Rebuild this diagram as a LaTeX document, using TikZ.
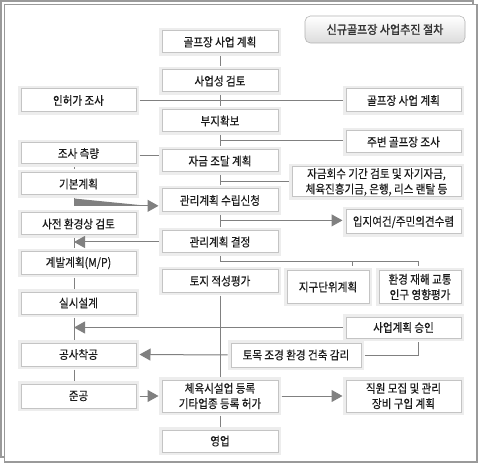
\documentclass[tikz,border=0pt]{standalone}
\usepackage{fontspec}
\usetikzlibrary{arrows.meta}
\newfontfamily\kr[FakeStretch=0.88,FakeBold=0.4]{Noto Sans CJK KR}
\newfontfamily\krb[FakeBold=1.6,FakeStretch=0.92]{Noto Sans CJK KR}
\definecolor{frame}{HTML}{9A9A9A}
\definecolor{bord}{HTML}{C4C4C4}
\definecolor{glow}{HTML}{EDEDED}
\definecolor{lnc}{HTML}{808080}
\definecolor{txt}{HTML}{1A1A1A}
\definecolor{titleb}{HTML}{B0B0B0}
\definecolor{titlebot}{HTML}{DCDCDC}
\newcommand\bx[6]{\node[box, minimum width={(#4-#2)*0.75pt}, minimum height={(#5-#3)*0.75pt}] (#1) at ({(#2+#4)/2},{(#3+#5)/2}) {#6};}
\tikzset{
  box/.style={draw=bord, fill=white, line width=0.75pt, inner sep=0pt, align=center,
    text=txt, font=\kr\fontsize{9}{11.5}\selectfont,
    preaction={draw=glow, line width=4.5pt}},
  ln/.style={draw=lnc, line width=0.75pt, shorten <=2.25pt, shorten >=2.25pt},
  lnS/.style={draw=lnc, line width=0.75pt, shorten <=2.25pt},
  lnE/.style={draw=lnc, line width=0.75pt, shorten >=2.25pt},
  tip/.style={-{Triangle[length=8.25pt,width=9pt]}, fill=lnc},
  arr/.style={ln, tip},
  arrL/.style={lnS, tip},
  arrE/.style={lnE, tip}
}
\begin{document}
\begin{tikzpicture}[x=0.75pt,y=-0.75pt]
\useasboundingbox (0,0) rectangle (478,463);
\draw[frame, line width=1pt] (1,1) rectangle (473,457);
\draw[frame, fill=white, line width=1pt] (4.5,4.5) rectangle (477,462);
\node[draw=titleb, rounded corners=4pt, top color=white, bottom color=titlebot,
  minimum width={160*0.75pt}, minimum height={27*0.75pt}, inner sep=0pt,
  text=black!80, font=\krb\fontsize{9}{11}\selectfont] (title) at (385,29.5) {신규골프장 사업추진 절차};
\bx{golf1}{162}{31}{278}{53}{골프장 사업 계획}
\bx{saeop}{162}{70}{278}{92}{사업성 검토}
\bx{inh}{21}{89}{136}{112}{인허가 조사}
\bx{golf2}{346}{89}{461}{112}{골프장 사업 계획}
\bx{buji}{162}{110}{278}{132}{부지확보}
\bx{ju}{346}{131}{461}{153}{주변 골프장 조사}
\bx{josa}{21}{143}{136}{164}{조사 측량}
\bx{jageum}{162}{150}{278}{172}{자금 조달 계획}
\bx{gibon}{21}{173}{136}{195}{기본계획}
\bx{hoesu}{292}{167}{461}{197}{자금회수 기간 검토 및 자기자금,\\체육진흥기금, 은행, 리스 랜탈 등}
\bx{gwanri}{162}{189}{278}{212}{관리계획 수립신청}
\bx{sajeon}{21}{213}{136}{235}{사전 환경상 검토}
\bx{ipji}{346}{210}{461}{234}{입지여건/주민의견수렴}
\bx{gyeol}{162}{231}{278}{253}{관리계획 결정}
\bx{gyebal}{21}{252}{136}{274}{계발계획(M/P)}
\bx{toji}{162}{270}{278}{292}{토지 적성평가}
\bx{jigu}{287}{271}{369}{303}{지구단위계획}
\bx{hwan}{379}{271}{461}{303}{환경 재해 교통\\인구 영향평가}
\bx{silsi}{21}{292}{136}{314}{실시설계}
\bx{seungin}{346}{317}{461}{338}{사업계획 승인}
\bx{gongsa}{21}{343}{136}{366}{공사착공}
\bx{tomok}{231}{343}{361}{367}{토목 조경 환경 건축 감리}
\bx{jungong}{21}{384}{136}{408}{준공}
\bx{cheyuk}{162}{380}{278}{412}{체육시설업 등록\\기타업종 등록 허가}
\bx{jigwon}{346}{380}{461}{412}{직원 모집 및 관리\\장비 구입 계획}
\bx{yeong}{162}{430}{278}{452}{영업}
\coordinate (L) at (74,0);
\coordinate (J1) at (352,262);
\coordinate (J2) at (418,262);
% connectors
\draw[ln] (golf1.south) -- (saeop.north);
\draw[ln] (saeop.south) -- (buji.north);
\draw[ln] (inh.east) -- (golf2.west);
\draw[ln] (buji.south) -- (jageum.north);
\draw[lnE] ([yshift=1pt]buji.south |- ju.west) -- ([yshift=1pt]ju.west);
\draw[ln] ([yshift=-1.8pt]josa.east) -- ([yshift=-1.8pt]josa.east -| jageum.west);
\draw[ln] (josa.south -| L) -- (gibon.north -| L);
\draw[ln] (jageum.south) -- (gwanri.north);
\draw[lnE] (jageum.south |- hoesu.west) -- (hoesu.west);
\draw[arr] (gibon.south -| L) |- ([yshift=-4pt]gwanri.west);
\draw[ln] (gwanri.south) -- (gyeol.north);
\draw[arrE] ([yshift=1.2pt]gwanri.south |- ipji.west) -- ([yshift=1.2pt]ipji.west);
\draw[ln] (sajeon.south -| L) -- (gyebal.north -| L);
\draw[arrL] (gyeol.west) -- (gyeol.west -| L);
\draw[ln] (gyebal.south -| L) -- (silsi.north -| L);
\draw[lnS] (gyeol.south) |- (J2) -- ([yshift=3pt]J2 |- hwan.north);
\draw[lnc, line width=0.75pt] (J1) -- ([yshift=3pt]J1 |- jigu.north);
\draw[ln] (toji.south) -- (cheyuk.north);
\draw[ln] (silsi.south -| L) -- (gongsa.north -| L);
\draw[arrL] (seungin.west) -- (seungin.west -| L);
\draw[arr] (tomok.west) -- (gongsa.east);
\draw[ln] (tomok.east) -| (J2 |- seungin.south);
\draw[ln] (gongsa.south -| L) -- (jungong.north -| L);
\draw[arr] (jungong.east) -- (cheyuk.west);
\draw[arr] (cheyuk.east) -- (jigwon.west);
\draw[ln] (cheyuk.south) -- (yeong.north);
\end{tikzpicture}
\end{document}
